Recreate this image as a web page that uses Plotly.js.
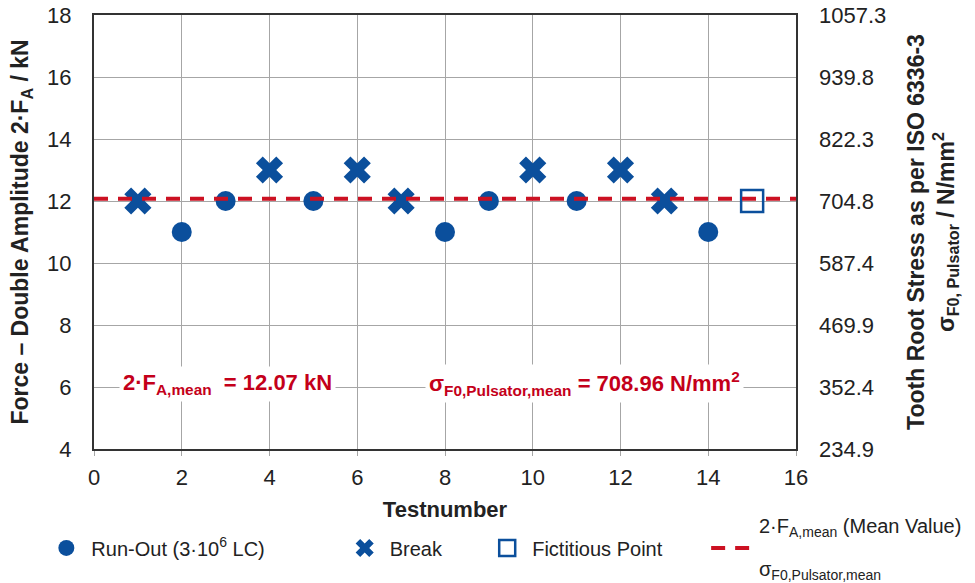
<!DOCTYPE html>
<html>
<head>
<meta charset="utf-8">
<script src="https://cdn.plot.ly/plotly-3.0.1.min.js"></script>
<style>html,body{margin:0;padding:0;background:#fff;}#chart{width:975px;height:583px;}</style>
</head>
<body>
<div id="chart"></div>
<script>
// ---- data ----
const runOutX = [2, 3, 5, 8, 9, 11, 14];
const runOutY = [11, 12, 12, 11, 12, 12, 11];
const breakX = [1, 4, 6, 7, 10, 12, 13];
const breakY = [12, 13, 13, 12, 13, 13, 12];
const fictX = [15];
const fictY = [12];
const meanX = [0, 16];
const meanF = 12.07;
const meanStress = 708.96;
const stressTicks = [234.9, 352.4, 469.9, 587.4, 704.8, 822.3, 939.8, 1057.3];
const forceRange = [4, 18];

const blue = '#0b4f9c';
const red = '#cc1122';
const textRed = '#c4001a';
const font = 'Liberation Sans, Arial, sans-serif';

const traces = [
  {x: runOutX, y: runOutY, mode: 'markers', type: 'scatter', name: 'Run-Out (3·10<sup>6</sup> LC)',
   marker: {symbol: 'circle', size: 20, color: blue}, legend: 'legend'},
  {x: breakX, y: breakY, mode: 'markers', type: 'scatter', name: 'Break',
   marker: {symbol: 'x', size: 24, color: blue, line: {width: 0}}, legend: 'legend2'},
  {x: fictX, y: fictY, mode: 'markers', type: 'scatter', name: 'Fictitious Point',
   marker: {symbol: 'square-open', size: 22, color: blue, line: {width: 2.5, color: blue}}, legend: 'legend3'},
  {x: meanX, y: meanX.map(() => meanF), mode: 'lines', type: 'scatter',
   name: ' ',
   line: {color: red, width: 4, dash: '14px,10px'}, legend: 'legend4'},
  // mean in stress units on the secondary axis (invisible, keeps the right axis drawn)
  {x: meanX, y: meanX.map(() => meanStress), yaxis: 'y2', mode: 'lines', type: 'scatter',
   line: {color: 'rgba(0,0,0,0)', width: 0}, showlegend: false, hoverinfo: 'skip'}
];

const legBase = {orientation: 'h', yanchor: 'middle', y: -0.228, xanchor: 'left', itemwidth: 40,
  font: {family: font, size: 20, color: '#222'}, bgcolor: 'rgba(0,0,0,0)'};

const layout = {
  width: 975, height: 583,
  margin: {l: 94, r: 179, t: 15, b: 134, autoexpand: false},
  paper_bgcolor: '#fff', plot_bgcolor: '#fff',
  font: {family: font, size: 21, color: '#222'},
  showlegend: true,
  legend: Object.assign({}, legBase, {x: -0.075}),
  legend2: Object.assign({}, legBase, {x: 0.35}),
  legend3: Object.assign({}, legBase, {x: 0.553}),
  legend4: Object.assign({}, legBase, {x: 0.872}),
  xaxis: {
    range: [0, 16], dtick: 2, tick0: 0,
    showgrid: true, gridcolor: '#a6a6a6', gridwidth: 1,
    zeroline: false,
    showline: true, linecolor: '#333', linewidth: 2, mirror: true,
    ticks: 'outside', ticklen: 5, tickcolor: '#a6a6a6', tickwidth: 1,
    ticklabelstandoff: 3,
    tickfont: {family: font, size: 22, color: '#222'},
    title: {text: '<b>Testnumber</b>', font: {family: font, size: 22, color: '#222'}, standoff: 12}
  },
  yaxis: {
    range: forceRange, dtick: 2, tick0: 4,
    showgrid: true, gridcolor: '#a6a6a6', gridwidth: 1,
    zeroline: false,
    showline: true, linecolor: '#333', linewidth: 2, mirror: true,
    ticks: '', ticklabelstandoff: 16,
    tickfont: {family: font, size: 22, color: '#222'},
    title: {text: '<b>Force – Double Amplitude 2·F<sub>A</sub> / kN</b>', font: {family: font, size: 23, color: '#222'}, standoff: 12}
  },
  yaxis2: {
    overlaying: 'y', side: 'right',
    range: [stressTicks[0], stressTicks[stressTicks.length - 1]],
    tickmode: 'array', tickvals: stressTicks, ticktext: stressTicks.map(v => v.toFixed(1)),
    showgrid: false, zeroline: false, showline: false,
    ticks: '', ticklabelstandoff: 22,
    tickfont: {family: font, size: 22, color: '#222'},
    title: {text: '<b>Tooth Root Stress as per ISO 6336-3<br>σ<sub>F0, Pulsator</sub> / N/mm<sup>2</sup></b>',
            font: {family: font, size: 23, color: '#222'}, standoff: 22}
  },
  annotations: [
    {x: 3.05, y: 6.1, xref: 'x', yref: 'y', showarrow: false,
     text: '<b>2·F<sub>A,mean</sub>  = ' + meanF.toFixed(2) + ' kN</b>',
     font: {family: font, size: 22, color: textRed}, bgcolor: '#fff', borderpad: 3},
    {x: 11.19, y: 6.1, xref: 'x', yref: 'y', showarrow: false,
     text: '<b>σ<sub>F0,Pulsator,mean</sub> = ' + meanStress.toFixed(2) + ' N/mm<sup>2</sup></b>',
     font: {family: font, size: 22, color: textRed}, bgcolor: '#fff', borderpad: 3},
    {x: 0.944, y: -0.18, xref: 'paper', yref: 'paper', xanchor: 'left', yanchor: 'middle', showarrow: false,
     text: '2·F<sub>A,mean</sub> (Mean Value)', font: {family: font, size: 20, color: '#222'}},
    {x: 0.944, y: -0.279, xref: 'paper', yref: 'paper', xanchor: 'left', yanchor: 'middle', showarrow: false,
     text: 'σ<sub>F0,Pulsator,mean</sub>', font: {family: font, size: 20, color: '#222'}}
  ]
};

Plotly.newPlot('chart', traces, layout, {displayModeBar: false, staticPlot: true});
</script>
</body>
</html>
